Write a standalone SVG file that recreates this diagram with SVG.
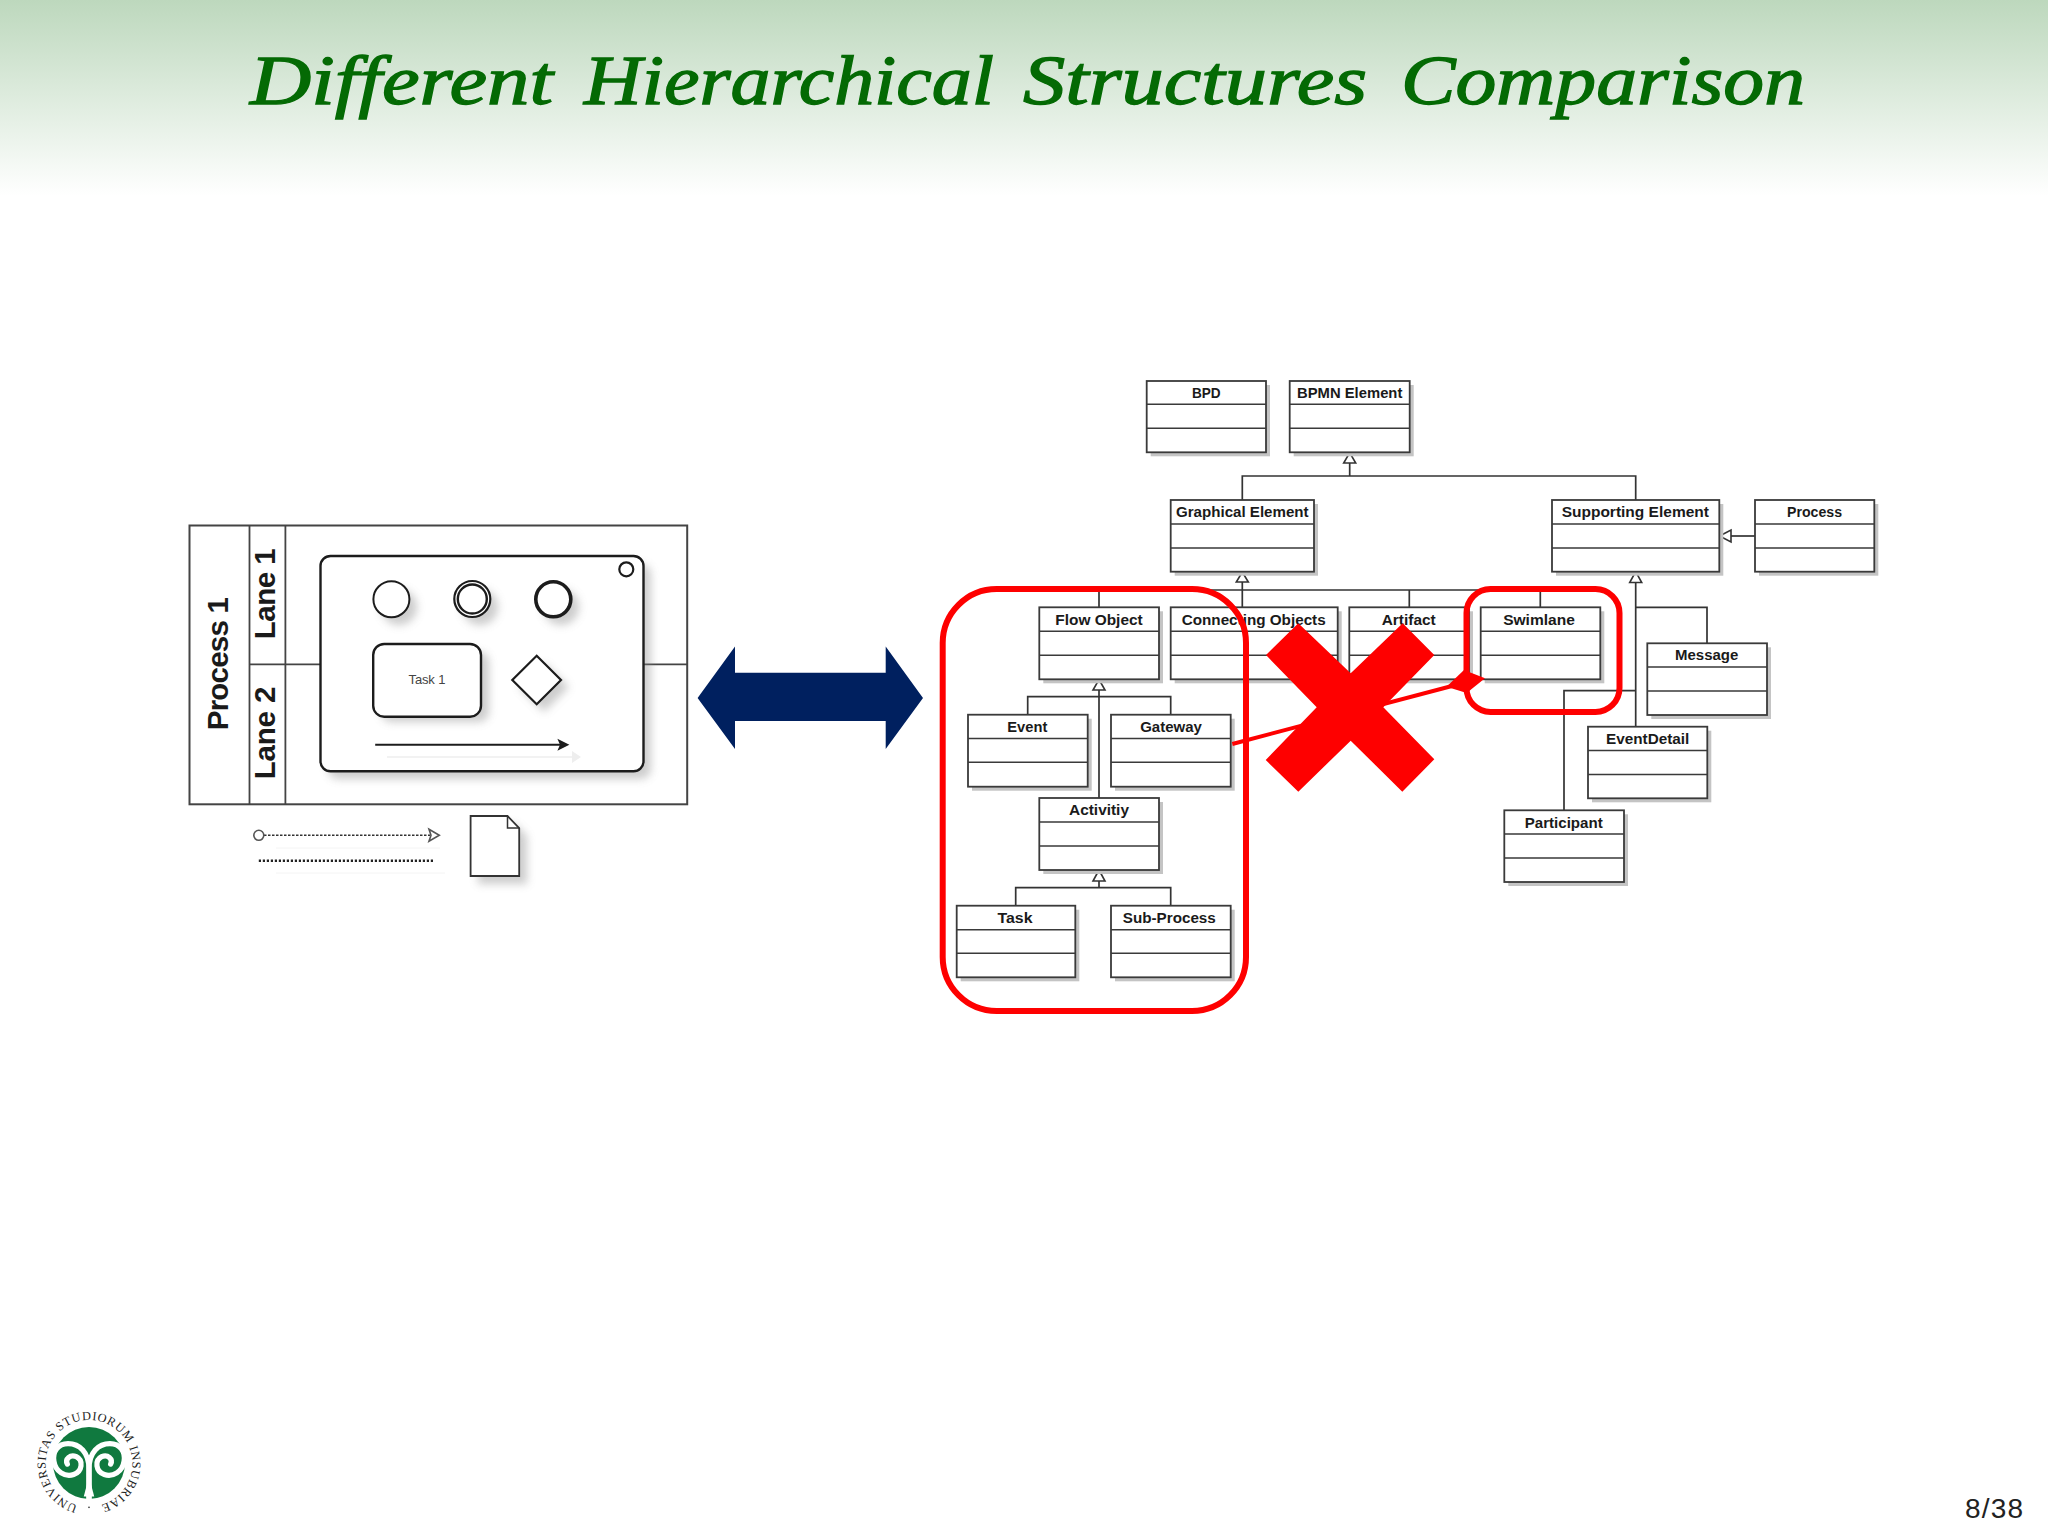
<svg xmlns="http://www.w3.org/2000/svg" width="2048" height="1536" viewBox="0 0 2048 1536">
<defs>
<linearGradient id="hdr" x1="0" y1="0" x2="0" y2="1"><stop offset="0" stop-color="#bdd8bd"/><stop offset="1" stop-color="#ffffff"/></linearGradient>
<filter id="soft" x="-20%" y="-20%" width="150%" height="150%"><feGaussianBlur stdDeviation="4.5"/></filter>
<style>
.sh{fill:#c4c4c4}
.box{fill:#fff;stroke:#3a3a3a;stroke-width:1.8}
.div{stroke:#3a3a3a;stroke-width:1.6}
.lbl{font-family:"Liberation Sans",Arial,sans-serif;font-weight:bold;font-size:14.5px;fill:#1a1a1a;text-anchor:middle}
.wire{fill:none;stroke:#333;stroke-width:1.7}
.tri{fill:#fff;stroke:#333;stroke-width:1.6}
.red{fill:none;stroke:#fe0000;stroke-width:6}
.ln{fill:none;stroke:#444;stroke-width:1.8}
.bp{fill:#fff;stroke:#1c1c1c;stroke-width:2.4}
.rot{font-family:"Liberation Sans",Arial,sans-serif;font-weight:bold;font-size:29.5px;fill:#1a1a1a;text-anchor:middle}
.shd{fill:#888;opacity:.42;filter:url(#soft)}
</style>
</defs>
<rect width="2048" height="1536" fill="#fff"/>
<rect id="header" width="2048" height="196" fill="url(#hdr)"/>
<text id="title" y="104" font-family="'Liberation Serif','Times New Roman',serif" font-style="italic" font-size="70" fill="#046a04" stroke="#046a04" stroke-width="1.3"><tspan x="250" textLength="303" lengthAdjust="spacingAndGlyphs">Different</tspan> <tspan x="584" textLength="410" lengthAdjust="spacingAndGlyphs">Hierarchical</tspan> <tspan x="1023" textLength="344" lengthAdjust="spacingAndGlyphs">Structures</tspan> <tspan x="1401" textLength="404" lengthAdjust="spacingAndGlyphs">Comparison</tspan></text>

<g id="bpmn-pool">
<rect x="189.5" y="525.5" width="497.7" height="278.8" fill="#fff" stroke="#444" stroke-width="2"/>
<path class="ln" d="M249.5 525.5V804.3M285.4 525.5V804.3M249.5 664.3H320.5M643.5 664.3H687.2"/>
<text class="rot" transform="translate(228 663.7) rotate(-90)" textLength="133">Process 1</text>
<text class="rot" transform="translate(275 593.8) rotate(-90)" textLength="91">Lane 1</text>
<text class="rot" transform="translate(275 733) rotate(-90)" textLength="92.7">Lane 2</text>
</g>
<g id="bpmn-process">
<rect class="shd" x="328" y="564" width="323" height="215" rx="10"/>
<rect class="bp" x="320.5" y="556" width="323" height="215.3" rx="10"/>
<circle cx="626.3" cy="569.3" r="7" fill="#fff" stroke="#1c1c1c" stroke-width="2.2"/>
</g>
<g id="event-start"><circle class="shd" cx="399" cy="607" r="18"/><circle cx="391.4" cy="599.3" r="18" fill="#fff" stroke="#1c1c1c" stroke-width="2"/></g>
<g id="event-intermediate"><circle class="shd" cx="480" cy="607" r="18"/><circle cx="472.3" cy="599" r="18" fill="#fff" stroke="#1c1c1c" stroke-width="2.2"/><circle cx="472.3" cy="599" r="14.5" fill="#fff" stroke="#1c1c1c" stroke-width="2.4"/></g>
<g id="event-end"><circle class="shd" cx="561" cy="607" r="18"/><circle cx="553.3" cy="599.3" r="17.5" fill="#fff" stroke="#1c1c1c" stroke-width="3.6"/></g>
<g id="task-1"><rect class="shd" x="381" y="652" width="108" height="70" rx="10"/><rect class="bp" x="373.2" y="644" width="107.8" height="72.7" rx="11"/><text x="427" y="684" font-family="'Liberation Sans',Arial,sans-serif" font-size="13" fill="#444" text-anchor="middle" textLength="36.8">Task 1</text></g>
<g id="gateway-shape"><path class="shd" d="M544 663L569 687L544 712L519 687Z"/><path d="M536.7 655.7L561 680L536.7 704.3L512.3 680Z" fill="#fff" stroke="#1c1c1c" stroke-width="2.2"/></g>
<g id="legend-doc"><path class="shd" d="M478 824H515L527 836V884H478Z"/><path d="M470.6 816H507.5L519.2 828V876H470.6Z" fill="#fff" stroke="#333" stroke-width="1.8"/><path d="M507.5 816V828H519.2" fill="none" stroke="#333" stroke-width="1.5"/></g>

<g id="bpmn-connectors">
<path d="M387 757H572" stroke="#eee" stroke-width="1.5"/><path d="M572 751L581 757L572 763Z" fill="#eee"/>
<path d="M375.2 744.7H560" stroke="#1c1c1c" stroke-width="2"/><path d="M569.4 744.7L557.4 738.7L560 744.7L557.4 750.7Z" fill="#1c1c1c"/>
<path d="M264 835.3H430" fill="none" stroke="#333" stroke-width="1.5" stroke-dasharray="2.5 1.5"/>
<circle cx="258.8" cy="835.3" r="5" fill="#fff" stroke="#555" stroke-width="1.6"/>
<path d="M429 829.3L439.3 835.3L429 841.3L431 835.3Z" fill="#fff" stroke="#555" stroke-width="1.6"/>
<path d="M258.8 860.7H434.5" fill="none" stroke="#222" stroke-width="2.6" stroke-dasharray="2.2 1.8"/>
<path d="M276 848H440M276 873H445" stroke="#f4f4f4" stroke-width="1"/>
</g>

<path id="double-arrow" d="M697.6 698L735 646.6V672.8H885.7V646.6L923 698L885.7 749V721H735V749Z" fill="#00205f"/>

<g id="uml-connectors" class="wire">
<path d="M1349.7 463V476M1242.3 500V476H1635.7V500"/>
<path d="M1242.3 582V607.3M1099 607.3V590H1540.3V607.3M1409.3 590V607.3"/>
<path d="M1099 690V798M1027.7 714.7V696.7H1170.7V714.7"/>
<path d="M1099 881V887.7M1015.7 905.7V887.7H1170.7V905.7"/>
<path d="M1635.7 582.5V726.7M1635.7 607.3H1707V643.3M1635.7 690.7H1564V810.3"/>
<path d="M1731 536H1755"/>
<path class="tri" d="M1349.7 452.6L1355.7 463H1343.7Z"/>
<path class="tri" d="M1242.3 572L1248.3 582H1236.3Z"/>
<path class="tri" d="M1099 679.5L1105 690H1093Z"/>
<path class="tri" d="M1099 870L1105 881H1093Z"/>
<path class="tri" d="M1635.7 571.7L1641.7 582.5H1629.7Z"/>
<path class="tri" d="M1719.5 536L1731 530V542Z"/>
</g>

<g id="BPD"><rect class="sh" x="1150.7" y="385" width="119.3" height="71.3"/><rect class="box" x="1146.7" y="381" width="119.3" height="71.3"/><path class="div" d="M1146.7 404.3H1266M1146.7 428.3H1266"/><text class="lbl" x="1206.3" y="398" textLength="28.7" lengthAdjust="spacingAndGlyphs">BPD</text></g>
<g id="BPMN-Element"><rect class="sh" x="1293.7" y="385" width="120" height="71.3"/><rect class="box" x="1289.7" y="381" width="120" height="71.3"/><path class="div" d="M1289.7 404.3H1409.7M1289.7 428.3H1409.7"/><text class="lbl" x="1349.7" y="398" textLength="105.3" lengthAdjust="spacingAndGlyphs">BPMN Element</text></g>
<g id="Graphical-Element"><rect class="sh" x="1174.7" y="504" width="143.3" height="71.7"/><rect class="box" x="1170.7" y="500" width="143.3" height="71.7"/><path class="div" d="M1170.7 524H1314M1170.7 548H1314"/><text class="lbl" x="1242.3" y="517" textLength="132.7" lengthAdjust="spacingAndGlyphs">Graphical Element</text></g>
<g id="Supporting-Element"><rect class="sh" x="1556" y="504" width="167.3" height="71.7"/><rect class="box" x="1552" y="500" width="167.3" height="71.7"/><path class="div" d="M1552 524H1719.3M1552 548H1719.3"/><text class="lbl" x="1635.3" y="517" textLength="147.3" lengthAdjust="spacingAndGlyphs">Supporting Element</text></g>
<g id="Process"><rect class="sh" x="1759" y="504" width="119.3" height="71.7"/><rect class="box" x="1755" y="500" width="119.3" height="71.7"/><path class="div" d="M1755 524H1874.3M1755 548H1874.3"/><text class="lbl" x="1814.5" y="517" textLength="55" lengthAdjust="spacingAndGlyphs">Process</text></g>
<g id="Flow-Object"><rect class="sh" x="1043.3" y="611.3" width="119.7" height="72"/><rect class="box" x="1039.3" y="607.3" width="119.7" height="72"/><path class="div" d="M1039.3 631.3H1159M1039.3 655.3H1159"/><text class="lbl" x="1099" y="624.5" textLength="87.3" lengthAdjust="spacingAndGlyphs">Flow Object</text></g>
<g id="Connecting-Objects"><rect class="sh" x="1174.7" y="611.3" width="167" height="72"/><rect class="box" x="1170.7" y="607.3" width="167" height="72"/><path class="div" d="M1170.7 631.3H1337.7M1170.7 655.3H1337.7"/><text class="lbl" x="1253.7" y="624.5" textLength="144" lengthAdjust="spacingAndGlyphs">Connecting Objects</text></g>
<g id="Artifact"><rect class="sh" x="1353.3" y="611.3" width="119.7" height="72"/><rect class="box" x="1349.3" y="607.3" width="119.7" height="72"/><path class="div" d="M1349.3 631.3H1469M1349.3 655.3H1469"/><text class="lbl" x="1408.7" y="624.5" textLength="54" lengthAdjust="spacingAndGlyphs">Artifact</text></g>
<g id="Swimlane"><rect class="sh" x="1484.7" y="611.3" width="119.6" height="72"/><rect class="box" x="1480.7" y="607.3" width="119.6" height="72"/><path class="div" d="M1480.7 631.3H1600.3M1480.7 655.3H1600.3"/><text class="lbl" x="1539" y="624.5" textLength="71.7" lengthAdjust="spacingAndGlyphs">Swimlane</text></g>
<g id="Message"><rect class="sh" x="1651.3" y="647.3" width="119.7" height="71.7"/><rect class="box" x="1647.3" y="643.3" width="119.7" height="71.7"/><path class="div" d="M1647.3 667H1767M1647.3 691H1767"/><text class="lbl" x="1706.7" y="660.3" textLength="63.3" lengthAdjust="spacingAndGlyphs">Message</text></g>
<g id="EventDetail"><rect class="sh" x="1592" y="730.7" width="119.3" height="71.6"/><rect class="box" x="1588" y="726.7" width="119.3" height="71.6"/><path class="div" d="M1588 750.5H1707.3M1588 774.5H1707.3"/><text class="lbl" x="1647.7" y="743.8" textLength="83.3" lengthAdjust="spacingAndGlyphs">EventDetail</text></g>
<g id="Participant"><rect class="sh" x="1508.3" y="814.3" width="119.7" height="71.7"/><rect class="box" x="1504.3" y="810.3" width="119.7" height="71.7"/><path class="div" d="M1504.3 834H1624M1504.3 858H1624"/><text class="lbl" x="1563.7" y="827.5" textLength="78" lengthAdjust="spacingAndGlyphs">Participant</text></g>
<g id="Event"><rect class="sh" x="972" y="718.7" width="119.7" height="72"/><rect class="box" x="968" y="714.7" width="119.7" height="72"/><path class="div" d="M968 738.5H1087.7M968 762.3H1087.7"/><text class="lbl" x="1027.3" y="732" textLength="40" lengthAdjust="spacingAndGlyphs">Event</text></g>
<g id="Gateway"><rect class="sh" x="1115" y="718.7" width="119.7" height="72"/><rect class="box" x="1111" y="714.7" width="119.7" height="72"/><path class="div" d="M1111 738.5H1230.7M1111 762.3H1230.7"/><text class="lbl" x="1171" y="732" textLength="61.7" lengthAdjust="spacingAndGlyphs">Gateway</text></g>
<g id="Activitiy"><rect class="sh" x="1043.3" y="802" width="119.7" height="72"/><rect class="box" x="1039.3" y="798" width="119.7" height="72"/><path class="div" d="M1039.3 822H1159M1039.3 846H1159"/><text class="lbl" x="1099" y="815" textLength="60" lengthAdjust="spacingAndGlyphs">Activitiy</text></g>
<g id="Task"><rect class="sh" x="960.7" y="909.7" width="118.6" height="71.6"/><rect class="box" x="956.7" y="905.7" width="118.6" height="71.6"/><path class="div" d="M956.7 929.7H1075.3M956.7 953.3H1075.3"/><text class="lbl" x="1015" y="923" textLength="35" lengthAdjust="spacingAndGlyphs">Task</text></g>
<g id="Sub-Process"><rect class="sh" x="1115" y="909.7" width="119.7" height="71.6"/><rect class="box" x="1111" y="905.7" width="119.7" height="71.6"/><path class="div" d="M1111 929.7H1230.7M1111 953.3H1230.7"/><text class="lbl" x="1169.3" y="923" textLength="93" lengthAdjust="spacingAndGlyphs">Sub-Process</text></g>

<g id="red-marks">
<rect class="red" x="942.7" y="589" width="303.3" height="422" rx="54"/>
<rect class="red" x="1466.5" y="589" width="153" height="123" rx="24"/>
<path d="M1232.3 744L1452 686" stroke="#fe0000" stroke-width="4" fill="none"/>
<path d="M1446.5 686.7L1464 670L1485 678.3L1466.7 693Z" fill="#fe0000"/>
<path d="M1298.3 623.3L1350.7 673.3L1402.7 623.3L1434.3 655L1383.3 707.3L1434.3 759.3L1402.3 791.7L1350.7 740.7L1298.3 791.7L1265.7 760L1316.7 707.3L1266 655Z" fill="#fe0000"/>
</g>

<g id="logo" transform="translate(20 1400) scale(0.3333)">
<circle cx="207" cy="189" r="108" fill="#10793f"/>
<g transform="translate(207 190) scale(1.12) translate(-206 -190)">
<g fill="none" stroke="#fff" stroke-width="14" stroke-linecap="round">
<path d="M206 285V205C206 160 180 137 150 137C122 137 108 160 112 184C116 212 142 228 165 220C188 212 192 182 172 172C156 165 141 178 148 192"/>
<path d="M206 285V205C206 160 232 137 262 137C290 137 304 160 300 184C296 212 270 228 247 220C224 212 220 182 240 172C256 165 271 178 264 192"/>
</g>
<path d="M192 279L206 225L220 279Z" fill="#fff"/>
</g>
<path id="logo-ring" d="M173 315.5A130 130 0 1 1 241 315.5" fill="none"/>
<text font-family="'Liberation Serif','Times New Roman',serif" font-size="37" fill="#222"><textPath href="#logo-ring" textLength="745">UNIVERSITAS STUDIORUM INSUBRIAE</textPath></text>
<circle cx="207" cy="322" r="2.5" fill="#222"/>
</g>
<text id="page" x="1965" y="1518" font-family="'Liberation Sans',Arial,sans-serif" font-size="28" fill="#222" textLength="58">8/38</text>
</svg>
